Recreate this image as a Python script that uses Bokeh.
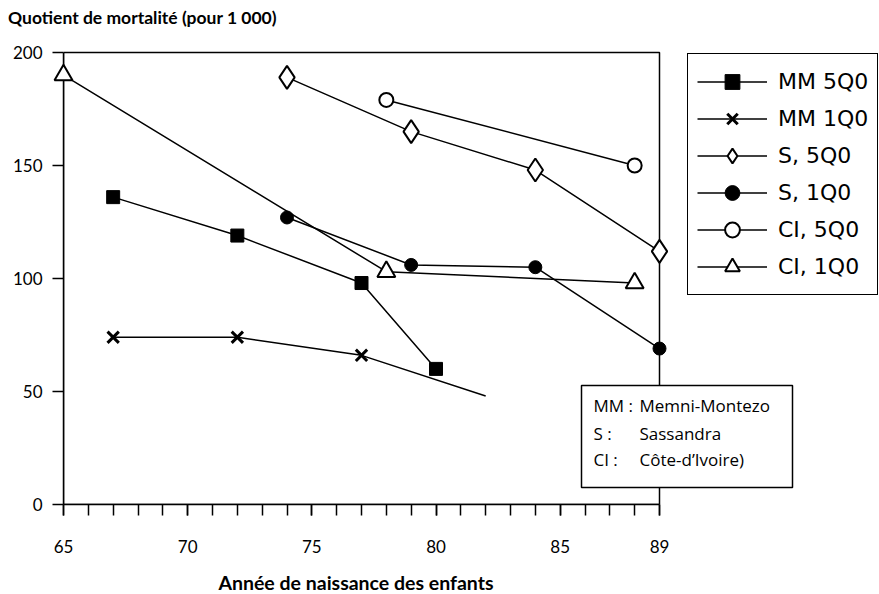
from bokeh.plotting import figure
from bokeh.layouts import column
from bokeh.models import (Range1d, FixedTicker, Legend, LegendItem, Label, BoxAnnotation, Div)
from bokeh.embed import file_html
from bokeh.resources import INLINE

# ---- data ----
mm5_years = [67, 72, 77, 80]
mm5_values = [136, 119, 98, 60]
mm1_years = [67, 72, 77, 82]
mm1_values = [74, 74, 66, 48]
mm1_marked = 3  # the last point of this line has no marker
s5_years = [74, 79, 84, 89]
s5_values = [189, 165, 148, 112]
s1_years = [74, 79, 84, 89]
s1_values = [127, 106, 105, 69]
ci5_years = [78, 88]
ci5_values = [179, 150]
ci1_years = [65, 78, 88]
ci1_values = [190, 103, 98]

x_start, x_end = 65, 89
y_start, y_end = 0, 200
x_major_ticks = [65, 70, 75, 80, 85, 89]
x_minor_ticks = list(range(65, 90))
y_ticks = [0, 50, 100, 150, 200]

title_text = "Quotient de mortalité (pour 1 000)"
xlabel_text = "Année de naissance des enfants"
abbrevs = ["MM :", "S :", "CI :"]
names = ["Memni-Montezo", "Sassandra", "Côte-d’Ivoire)"]

FONT = "Lato"
FONT2 = "Open Sans"
LEG_FONT = "DejaVu Sans"

W = 879
TITLE_H = 40
XLAB_H = 34
FIG_H = 594 - TITLE_H - XLAB_H          # 520
FRAME_LEFT = 63
FRAME_TOP = 50 - TITLE_H                # 2px above the 200 line
FRAME_BOTTOM = 504 - TITLE_H            # y = 0 line
px_per_year = 596 / (x_end - x_start)
px_per_unit = 452 / (y_end - y_start)
x_view_end = x_start + (W - FRAME_LEFT) / px_per_year
y_view_end = y_end + 2 / px_per_unit

p = figure(width=W, height=FIG_H, x_range=Range1d(x_start, x_view_end),
           y_range=Range1d(y_start, y_view_end),
           output_backend="svg", toolbar_location=None,
           min_border_left=FRAME_LEFT, min_border_right=0, min_border_top=FRAME_TOP,
           min_border_bottom=FIG_H - FRAME_BOTTOM)
p.xgrid.visible = False
p.ygrid.visible = False
p.outline_line_color = None

for ax in (p.xaxis, p.yaxis):
    ax.axis_line_width = 1.5
    ax.major_tick_line_width = 1.5
    ax.minor_tick_line_width = 1.5
    ax.major_tick_in = 0
    ax.minor_tick_in = 0
    ax.major_tick_out = 11
    ax.minor_tick_out = 11
    ax.major_label_text_font = FONT
    ax.major_label_text_font_size = "17px"
    ax.major_label_text_color = "black"

p.xaxis.bounds = (x_start, x_end)
p.yaxis.bounds = (y_start, y_end)
p.xaxis.ticker = FixedTicker(ticks=x_major_ticks, minor_ticks=x_minor_ticks)
p.yaxis.ticker = FixedTicker(ticks=y_ticks, minor_ticks=[])
p.yaxis.minor_tick_out = 0
p.xaxis.major_label_standoff = 24
p.yaxis.major_label_standoff = 10

# the plotting box (top and right borders)
p.add_layout(BoxAnnotation(left=x_start, right=x_end, bottom=y_start, top=y_end,
                           fill_alpha=0, line_color="black", line_width=1.5, line_alpha=1))

lw = 1.5
l1 = p.line(mm5_years, mm5_values, line_color="black", line_width=lw)
m1 = p.scatter(mm5_years, mm5_values, marker="square", size=13, fill_color="black",
               line_color="black", level="overlay")
l2 = p.line(mm1_years, mm1_values, line_color="black", line_width=lw)
m2 = p.scatter(mm1_years[:mm1_marked], mm1_values[:mm1_marked], marker="x", size=16,
               line_color="black", line_width=3, level="overlay")
l3 = p.line(s5_years, s5_values, line_color="black", line_width=lw)
m3 = p.scatter(s5_years, s5_values, marker="diamond", size=23, fill_color="white",
               line_color="black", line_width=2, level="overlay")
l4 = p.line(s1_years, s1_values, line_color="black", line_width=lw)
m4 = p.scatter(s1_years, s1_values, marker="circle", size=13, fill_color="black",
               line_color="black", level="overlay")
l5 = p.line(ci5_years, ci5_values, line_color="black", line_width=lw)
m5 = p.scatter(ci5_years, ci5_values, marker="circle", size=14, fill_color="white",
               line_color="black", line_width=2, level="overlay")
l6 = p.line(ci1_years, ci1_values, line_color="black", line_width=lw)
m6 = p.scatter(ci1_years, ci1_values, marker="triangle", size=18, fill_color="white",
               line_color="black", line_width=2, level="overlay")

items = [
    LegendItem(label="MM 5Q0", renderers=[l1, m1]),
    LegendItem(label="MM 1Q0", renderers=[l2, m2]),
    LegendItem(label="S, 5Q0", renderers=[l3, m3]),
    LegendItem(label="S, 1Q0", renderers=[l4, m4]),
    LegendItem(label="CI, 5Q0", renderers=[l5, m5]),
    LegendItem(label="CI, 1Q0", renderers=[l6, m6]),
]
legend = Legend(items=items, location=(624, 209), glyph_width=70, glyph_height=37,
                spacing=0, padding=9, label_standoff=11, margin=0,
                label_text_font=LEG_FONT, label_text_font_size="22px", label_text_color="black",
                label_height=37,
                border_line_color="black", border_line_width=1.5, border_line_alpha=1,
                background_fill_color="white", background_fill_alpha=1)
p.add_layout(legend)

box = BoxAnnotation(left=518, right=729, top=119, bottom=17,
                    left_units="screen", right_units="screen", top_units="screen", bottom_units="screen",
                    fill_color="white", fill_alpha=1, line_color="black", line_width=1.5, line_alpha=1)
p.add_layout(box)

row_y = [99, 71, 45]
for ab, nm, yy in zip(abbrevs, names, row_y):
    p.add_layout(Label(x=530, y=yy, x_units="screen", y_units="screen", text=ab,
                       text_baseline="middle", text_font=FONT2, text_font_size="17px",
                       text_color="black"))
    p.add_layout(Label(x=576, y=yy, x_units="screen", y_units="screen", text=nm,
                       text_baseline="middle", text_font=FONT2, text_font_size="17px",
                       text_color="black"))

title_div = Div(
    text=('<div style="margin:8px 0 0 8px; font-family:Lato; font-weight:bold; '
          'font-size:17.5px; line-height:20px; color:black; white-space:nowrap;">'
          + title_text + '</div>'),
    width=W, height=TITLE_H, margin=0)
xlabel_div = Div(
    text=('<div style="width:712px; text-align:center; margin-top:11px; font-family:Lato; '
          'font-weight:bold; font-size:19.5px; line-height:24px; color:black; white-space:nowrap;">'
          + xlabel_text + '</div>'),
    width=W, height=XLAB_H, margin=0)

page = column(title_div, p, xlabel_div, spacing=0)

open("out.html", "w").write(file_html(page, INLINE))
